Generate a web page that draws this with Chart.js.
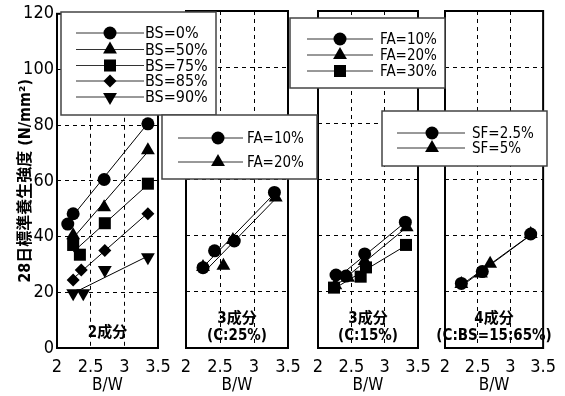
<!DOCTYPE html>
<html lang="ja">
<head>
<meta charset="UTF-8">
<title>28日標準養生強度とB/W</title>
<script src="https://cdn.jsdelivr.net/npm/chart.js"></script>
<style>
  body { margin: 0; background: #fff; }
  #wrap { position: relative; width: 565px; height: 396px; background: #fff; }
  #wrap canvas { position: absolute; left: 0; top: 0; }
</style>
</head>
<body>
<div id="wrap">
  <canvas id="p1" width="565" height="396"></canvas>
  <canvas id="p2" width="565" height="396"></canvas>
  <canvas id="p3" width="565" height="396"></canvas>
  <canvas id="p4" width="565" height="396"></canvas>
  <canvas id="legends" width="565" height="396"></canvas>
</div>
<script>
const xTicks = [2, 2.5, 3, 3.5];
const yTicks = [0, 20, 40, 60, 80, 100, 120];

// 2成分 (BS置換率)
const bwBS0  = [2.16, 2.24, 2.70, 3.35], fcBS0  = [44.5, 48.2, 60.5, 80.5];
const bwBS50 = [2.24, 2.70, 3.35],       fcBS50 = [40.5, 50.5, 71.0];
const bwBS75 = [2.24, 2.34, 2.71, 3.35], fcBS75 = [37.0, 33.5, 44.8, 59.0];
const bwBS85 = [2.24, 2.36, 2.71, 3.35], fcBS85 = [24.4, 28.0, 35.0, 48.2];
const bwBS90 = [2.24, 2.39, 2.71, 3.35], fcBS90 = [19.7, 19.7, 28.0, 32.6];
const fitBS0  = [[2.16, 45.2], [3.35, 80.7]];
const fitBS50 = [[2.24, 39.5], [3.35, 70.5]];
const fitBS75 = [[2.24, 34.5], [3.35, 58.7]];
const fitBS85 = [[2.24, 24.9], [3.35, 48.5]];
const fitBS90 = [[2.24, 19.7], [3.35, 33.0]];

// 3成分 (C:25%)
const bwC25FA10 = [2.25, 2.42, 2.71, 3.30], fcC25FA10 = [28.6, 34.6, 38.1, 55.4];
const bwC25FA20 = [2.25, 2.55, 2.69, 3.32], fcC25FA20 = [28.8, 29.3, 38.5, 53.6];
const fitC25FA10 = [[2.25, 28.8], [3.30, 55.0]];
const fitC25FA20 = [[2.25, 26.6], [3.32, 53.2]];

// 3成分 (C:15%)
const bwC15FA10 = [2.27, 2.42, 2.70, 3.31], fcC15FA10 = [26.0, 25.6, 33.5, 44.8];
const bwC15FA20 = [2.26, 2.45, 2.70, 3.33], fcC15FA20 = [22.3, 25.0, 31.0, 43.0];
const bwC15FA30 = [2.24, 2.64, 2.72, 3.32], fcC15FA30 = [21.5, 25.4, 28.7, 36.7];
const fitC15FA10 = [[2.27, 24.6], [3.31, 44.8]];
const fitC15FA20 = [[2.26, 22.0], [3.33, 43.0]];
const fitC15FA30 = [[2.24, 21.1], [3.32, 36.5]];

// 4成分 (C:BS=15:65%)
const bwSF25 = [2.25, 2.57, 3.31],       fcSF25 = [23.0, 27.2, 40.6];
const bwSF5  = [2.25, 2.55, 2.69, 3.31], fcSF5  = [22.8, 26.5, 30.0, 40.6];
const fitSF25 = [[2.25, 22.4], [3.31, 40.3]];
const fitSF5  = [[2.25, 22.0], [3.31, 40.2]];

const NARROW = "'DejaVu Sans Condensed', 'Liberation Sans', sans-serif";
const JP = "'DejaVu Sans Condensed', 'Noto Sans CJK JP', sans-serif";

const MARK = {
  circle:   { pointStyle: 'circle',   radius: 6.5, rotation: 0 },
  triangle: { pointStyle: 'triangle', radius: 8,   rotation: 0 },
  square:   { pointStyle: 'rect',     radius: 8.5, rotation: 0 },
  diamond:  { pointStyle: 'rectRot',  radius: 6.5, rotation: 0 },
  down:     { pointStyle: 'triangle', radius: 8,   rotation: 180 }
};

const toXY = (xs, ys) => xs.map((v, i) => ({ x: v, y: ys[i] }));

// frame around each plot area + caption at the bottom
const framePlugin = {
  id: 'frame',
  beforeDatasetsDraw(chart, args, opts) {
    const { ctx, chartArea: a } = chart;
    ctx.save();
    ctx.strokeStyle = '#000';
    ctx.lineWidth = 2;
    ctx.strokeRect(a.left, a.top, a.right - a.left, a.bottom - a.top);
    ctx.fillStyle = '#000';
    ctx.font = "bold 15px " + JP;
    ctx.textAlign = 'center';
    ctx.textBaseline = 'middle';
    const cx = (a.left + a.right) / 2;
    const lines = opts.caption || [];
    lines.forEach((t, i) => {
      const y = a.bottom - (lines.length === 1 ? 15 : (i === 0 ? 29 : 12));
      ctx.fillText(t, cx, y);
    });
    ctx.restore();
  }
};

function makePanel(id, left, right, series, fits, caption, first) {
  const datasets = [];
  fits.forEach(f => datasets.push({
    type: 'line',
    data: f.map(p => ({ x: p[0], y: p[1] })),
    borderColor: '#000', borderWidth: 1, pointRadius: 0, tension: 0, order: 2
  }));
  series.forEach(s => datasets.push({
    type: 'scatter',
    label: s.label,
    data: toXY(s.x, s.y),
    pointStyle: MARK[s.mark].pointStyle,
    pointRadius: MARK[s.mark].radius,
    pointRotation: MARK[s.mark].rotation,
    backgroundColor: '#000', borderColor: '#000', borderWidth: 0,
    order: 1
  }));

  return new Chart(document.getElementById(id), {
    type: 'scatter',
    data: { datasets },
    plugins: [framePlugin],
    options: {
      responsive: false,
      animation: false,
      devicePixelRatio: 1,
      clip: false,
      layout: { padding: { left: first ? 0 : left, right: 565 - right, top: 11, bottom: 0 } },
      plugins: { legend: { display: false }, tooltip: { enabled: false }, frame: { caption } },
      scales: {
        x: {
          type: 'linear', min: 2, max: 3.5,
          afterBuildTicks: s => { s.ticks = xTicks.map(v => ({ value: v })); },
          afterFit: s => { s.height = 48; },
          ticks: { color: '#000', font: { family: NARROW, size: 18 }, padding: 9, maxRotation: 0, autoSkip: false, callback: v => String(v) },
          grid: { color: '#000', lineWidth: 1, drawTicks: false },
          border: { display: false, dash: [4, 4] },
          title: { display: true, text: 'B/W', color: '#000', font: { family: NARROW, size: 17 }, padding: 0 }
        },
        y: {
          type: 'linear', min: 0, max: 120,
          afterBuildTicks: s => { s.ticks = yTicks.map(v => ({ value: v })); },
          afterFit: s => { s.width = first ? left : 0; },
          ticks: { display: first, color: '#000', font: { family: NARROW, size: 18 }, padding: 3, callback: v => String(v) },
          grid: { color: '#000', lineWidth: 1, drawTicks: false },
          border: { display: false, dash: [4, 4] },
          title: {
            display: first, text: '28日標準養生強度 (N/mm²)', color: '#000',
            font: { family: JP, size: 16, weight: 'bold' }, padding: { top: 16, bottom: 0 }
          }
        }
      }
    }
  });
}

const seriesBS = [
  { label: 'BS=0%',  mark: 'circle',   x: bwBS0,  y: fcBS0 },
  { label: 'BS=50%', mark: 'triangle', x: bwBS50, y: fcBS50 },
  { label: 'BS=75%', mark: 'square',   x: bwBS75, y: fcBS75 },
  { label: 'BS=85%', mark: 'diamond',  x: bwBS85, y: fcBS85 },
  { label: 'BS=90%', mark: 'down',     x: bwBS90, y: fcBS90 }
];
const seriesC25 = [
  { label: 'FA=10%', mark: 'circle',   x: bwC25FA10, y: fcC25FA10 },
  { label: 'FA=20%', mark: 'triangle', x: bwC25FA20, y: fcC25FA20 }
];
const seriesC15 = [
  { label: 'FA=10%', mark: 'circle',   x: bwC15FA10, y: fcC15FA10 },
  { label: 'FA=20%', mark: 'triangle', x: bwC15FA20, y: fcC15FA20 },
  { label: 'FA=30%', mark: 'square',   x: bwC15FA30, y: fcC15FA30 }
];
const seriesSF = [
  { label: 'SF=2.5%', mark: 'circle',   x: bwSF25, y: fcSF25 },
  { label: 'SF=5%',   mark: 'triangle', x: bwSF5,  y: fcSF5 }
];

makePanel('p1', 57, 158, seriesBS, [fitBS0, fitBS50, fitBS75, fitBS85, fitBS90], ['2成分'], true);
makePanel('p2', 186, 288, seriesC25, [fitC25FA10, fitC25FA20], ['3成分', '(C:25%)'], false);
makePanel('p3', 318, 418, seriesC15, [fitC15FA10, fitC15FA20, fitC15FA30], ['3成分', '(C:15%)'], false);
makePanel('p4', 445, 546, seriesSF, [fitSF25, fitSF5], ['4成分', '(C:BS=15:65%)'], false);

// legend boxes sit on top of all panels, so they go on their own canvas
const legendBoxes = [
  { series: seriesBS,  x: 61,  y: 12,  w: 155, h: 103, line: [76, 144],  mark: 110, text: 145, rows: [33, 49.5, 65.5, 81, 97], size: 16 },
  { series: seriesC25, x: 162, y: 115, w: 155, h: 64,  line: [178, 243], mark: 218, text: 247, rows: [138, 162], size: 15 },
  { series: seriesC15, x: 290, y: 18,  w: 155, h: 70,  line: [307, 373], mark: 340, text: 380, rows: [39, 55, 71], size: 15 },
  { series: seriesSF,  x: 382, y: 111, w: 165, h: 55,  line: [397, 465], mark: 432, text: 472, rows: [133, 148], size: 15 }
];

const lctx = document.getElementById('legends').getContext('2d');
legendBoxes.forEach(b => {
  lctx.save();
  lctx.fillStyle = '#fff';
  lctx.fillRect(b.x, b.y, b.w, b.h);
  lctx.strokeStyle = '#444';
  lctx.lineWidth = 1.5;
  lctx.strokeRect(b.x, b.y, b.w, b.h);
  b.series.forEach((s, i) => {
    const y = b.rows[i];
    lctx.strokeStyle = '#333';
    lctx.lineWidth = 1;
    lctx.beginPath();
    lctx.moveTo(b.line[0], y);
    lctx.lineTo(b.line[1], y);
    lctx.stroke();
    lctx.fillStyle = '#000';
    Chart.helpers.drawPoint(lctx, { pointStyle: MARK[s.mark].pointStyle, radius: MARK[s.mark].radius, rotation: MARK[s.mark].rotation, borderWidth: 0 }, b.mark, y);
    lctx.font = b.size + 'px ' + NARROW;
    lctx.textAlign = 'left';
    lctx.textBaseline = 'middle';
    lctx.fillText(s.label, b.text, y + 1);
  });
  lctx.restore();
});
</script>
</body>
</html>
